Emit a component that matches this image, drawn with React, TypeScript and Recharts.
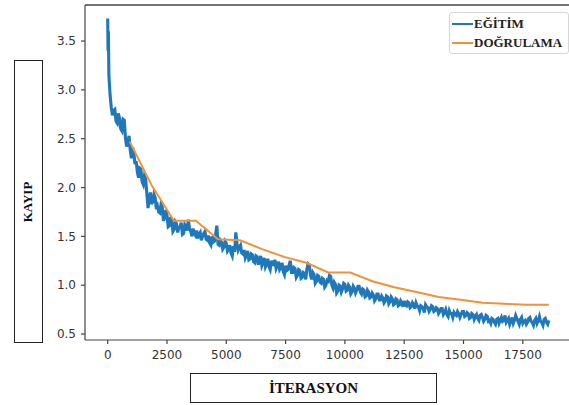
import { LineChart, Line, XAxis, YAxis, Legend, ReferenceLine } from 'recharts'

// training loss: first few logged points, then one value every 50 iterations from 100 to 18600
const TRAIN_HEAD_ITERS = [0, 15, 30, 50, 75]
const TRAIN_HEAD_LOSS = [3.73, 3.4, 3.6, 3.15, 3.05]
const TRAIN_START = 100
const TRAIN_STEP = 50
const TRAIN_LOSS = [
  2.95, 2.82, 2.74, 2.79, 2.8, 2.68, 2.66, 2.76, 2.71, 2.6,
  2.58, 2.7, 2.69, 2.5, 2.42, 2.47, 2.53, 2.38, 2.3, 2.41,
  2.36, 2.24, 2.27, 2.16, 2.1, 2.2, 2.19, 2.06, 2.03, 2.12,
  2.09, 1.94, 1.79, 1.88, 1.95, 1.83, 1.86, 1.93, 1.9, 1.78,
  1.81, 1.75, 1.74, 1.83, 1.8, 1.66, 1.69, 1.77, 1.72, 1.6,
  1.61, 1.7, 1.66, 1.55, 1.57, 1.65, 1.63, 1.54, 1.59, 1.6,
  1.64, 1.52, 1.53, 1.62, 1.6, 1.56, 1.67, 1.58, 1.55, 1.5,
  1.58, 1.53, 1.51, 1.56, 1.48, 1.52, 1.54, 1.46, 1.5, 1.53,
  1.55, 1.47, 1.46, 1.51, 1.43, 1.41, 1.5, 1.44, 1.45, 1.52,
  1.61, 1.42, 1.41, 1.46, 1.44, 1.37, 1.39, 1.45, 1.43, 1.35,
  1.37, 1.41, 1.33, 1.3, 1.4, 1.34, 1.54, 1.43, 1.36, 1.39,
  1.41, 1.33, 1.32, 1.36, 1.28, 1.31, 1.35, 1.26, 1.27, 1.32,
  1.31, 1.24, 1.23, 1.3, 1.29, 1.21, 1.26, 1.3, 1.2, 1.23,
  1.28, 1.19, 1.22, 1.27, 1.19, 1.16, 1.25, 1.21, 1.21, 1.26,
  1.17, 1.2, 1.24, 1.16, 1.18, 1.23, 1.14, 1.11, 1.2, 1.15,
  1.16, 1.21, 1.25, 1.13, 1.13, 1.18, 1.17, 1.08, 1.1, 1.16,
  1.15, 1.07, 1.08, 1.13, 1.12, 1.06, 1.17, 1.22, 1.21, 1.1,
  1.06, 1.13, 1.11, 1.02, 1.04, 1.1, 1.09, 1.03, 1.02, 1.07,
  1.06, 0.98, 1.0, 1.05, 1.04, 1.1, 1.09, 1.0, 0.97, 1.03,
  1.01, 0.92, 0.94, 1.0, 0.99, 0.93, 0.96, 1.02, 1.01, 0.94,
  0.95, 1.0, 0.98, 0.91, 0.93, 0.99, 0.97, 0.92, 0.95, 0.99,
  0.99, 0.93, 0.91, 0.96, 0.95, 0.88, 0.89, 0.95, 0.93, 0.87,
  0.88, 0.92, 0.9, 0.84, 0.86, 0.91, 0.91, 0.85, 0.85, 0.89,
  0.87, 0.82, 0.84, 0.89, 0.88, 0.81, 0.83, 0.88, 0.86, 0.8,
  0.81, 0.86, 0.85, 0.79, 0.8, 0.84, 0.82, 0.78, 0.84, 0.8,
  0.79, 0.83, 0.82, 0.77, 0.78, 0.82, 0.8, 0.76, 0.82, 0.79,
  0.78, 0.74, 0.79, 0.78, 0.76, 0.72, 0.8, 0.78, 0.77, 0.73,
  0.75, 0.79, 0.78, 0.73, 0.74, 0.77, 0.76, 0.71, 0.73, 0.76,
  0.76, 0.7, 0.72, 0.75, 0.7, 0.68, 0.74, 0.71, 0.71, 0.67,
  0.72, 0.7, 0.69, 0.73, 0.71, 0.67, 0.7, 0.73, 0.73, 0.68,
  0.69, 0.72, 0.71, 0.66, 0.67, 0.71, 0.7, 0.65, 0.68, 0.7,
  0.66, 0.64, 0.69, 0.7, 0.67, 0.63, 0.65, 0.69, 0.68, 0.63,
  0.64, 0.61, 0.66, 0.65, 0.62, 0.6, 0.65, 0.66, 0.61, 0.64,
  0.67, 0.63, 0.64, 0.69, 0.62, 0.64, 0.66, 0.6, 0.63, 0.67,
  0.61, 0.64, 0.69, 0.66, 0.63, 0.6, 0.65, 0.67, 0.61, 0.63,
  0.64, 0.6, 0.62, 0.66, 0.67, 0.63, 0.62, 0.59, 0.64, 0.66,
  0.61, 0.64, 0.68, 0.63, 0.62, 0.59, 0.65, 0.66, 0.62, 0.6,
  0.64,
]

// validation loss, once per epoch
const VAL_ITERS = [930, 1860, 2790, 3720, 4650, 5580, 6510, 7440, 8370, 9300, 10230, 11160, 12090, 13020, 13950, 14880, 15810, 16740, 17670, 18600]
const VAL_LOSS = [2.47, 2.02, 1.66, 1.66, 1.47, 1.46, 1.37, 1.29, 1.23, 1.13, 1.13, 1.04, 0.98, 0.93, 0.88, 0.85, 0.82, 0.81, 0.8, 0.8]

const SERIES = ['EĞİTİM', 'DOĞRULAMA']
const X_TICKS = [0, 2500, 5000, 7500, 10000, 12500, 15000, 17500]
const Y_TICKS = [0.5, 1.0, 1.5, 2.0, 2.5, 3.0, 3.5]

const trainData = [
  ...TRAIN_HEAD_ITERS.map((it, i) => ({ it, loss: TRAIN_HEAD_LOSS[i] })),
  ...TRAIN_LOSS.map((loss, i) => ({ it: TRAIN_START + i * TRAIN_STEP, loss })),
]
const valData = VAL_ITERS.map((it, i) => ({ it, loss: VAL_LOSS[i] }))

const X_DOMAIN: [number, number] = [-957, 19448]
const Y_DOMAIN: [number, number] = [0.439, 3.869]

const AXIS = '#444'
const tickStyle = { fontSize: 12, fill: '#333', fontFamily: 'DejaVu Sans' }
const serif = '"Liberation Serif", "Times New Roman", serif'

function LegendBox({ payload }: any) {
  const items = [...(payload || [])].sort((a: any, b: any) => SERIES.indexOf(a.value) - SERIES.indexOf(b.value))
  return (
    <div style={{
      border: '1px solid #d6d6d6', borderRadius: 3, background: '#fff', padding: '1px 3px 1px 2px',
      fontFamily: serif, fontWeight: 'bold', fontSize: 13, color: '#222', boxSizing: 'border-box',
    }}>
      {items.map((p: any) => (
        <div key={p.value} style={{ display: 'flex', alignItems: 'center', height: 19 }}>
          <span style={{ width: 21, height: 0, borderTop: `2px solid ${p.color}`, marginRight: 1 }} />
          {p.value}
        </div>
      ))}
    </div>
  )
}

export default function App() {
  return (
    <div style={{ position: 'absolute', left: 0, top: 0, width: 569, height: 405, background: '#fff', overflow: 'hidden' }}>
      <LineChart width={569} height={405} data={trainData} margin={{ top: 5, right: 0, bottom: 0, left: 0 }}>
        <XAxis
          dataKey="it" type="number" domain={X_DOMAIN} ticks={X_TICKS} allowDataOverflow
          height={65} tickSize={4} tickMargin={6} tick={tickStyle}
          stroke={AXIS} strokeWidth={1.2} interval={0}
        />
        <YAxis
          type="number" domain={Y_DOMAIN} ticks={Y_TICKS} allowDataOverflow width={85}
          tickSize={4} tickMargin={5} tick={tickStyle} tickFormatter={(v: number) => v.toFixed(1)}
          stroke={AXIS} strokeWidth={1.2} interval={0}
        />
        <ReferenceLine y={Y_DOMAIN[1]} stroke={AXIS} strokeWidth={1.6} />
        <Legend
          layout="vertical" align="center" verticalAlign="middle"
          wrapperStyle={{ top: 12, left: 449, width: 120 }}
          content={<LegendBox />}
        />
        <Line
          data={trainData} dataKey="loss" name={SERIES[0]} type="linear" stroke="#1f78ba"
          strokeWidth={3.1} dot={false} isAnimationActive={false}
        />
        <Line
          data={valData} dataKey="loss" name={SERIES[1]} type="linear" stroke="#f0923a"
          strokeWidth={2} dot={false} isAnimationActive={false}
        />
      </LineChart>
      <div style={{
        position: 'absolute', left: 14, top: 60, width: 29, height: 283, border: '1.5px solid #222',
        boxSizing: 'border-box', display: 'flex', alignItems: 'center', justifyContent: 'center',
      }}>
        <span style={{ transform: 'rotate(-90deg)', fontFamily: serif, fontWeight: 'bold', fontSize: 13, color: '#111', whiteSpace: 'nowrap' }}>
          KAYIP
        </span>
      </div>
      <div style={{
        position: 'absolute', left: 190, top: 373, width: 247, height: 30, border: '1.5px solid #222',
        boxSizing: 'border-box', display: 'flex', alignItems: 'center', justifyContent: 'center',
        fontFamily: serif, fontWeight: 'bold', fontSize: 15, color: '#111',
      }}>
        İTERASYON
      </div>
    </div>
  )
}
